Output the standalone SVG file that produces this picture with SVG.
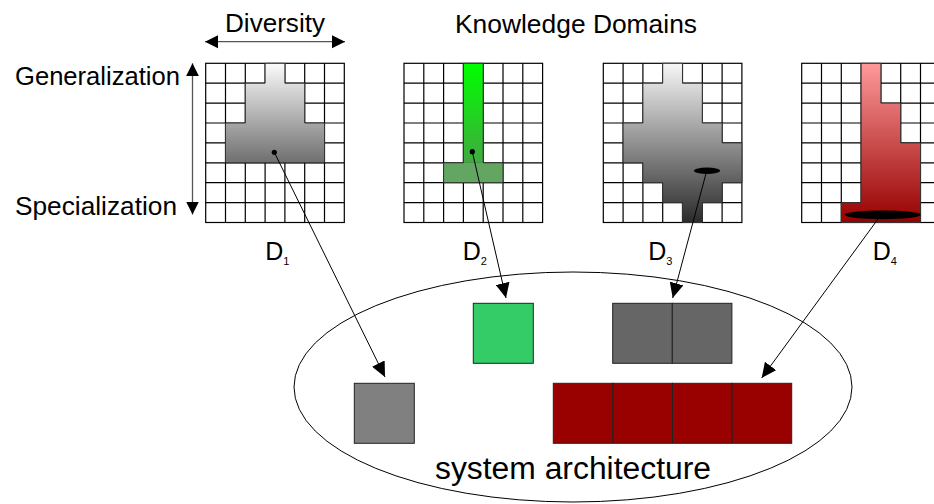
<svg xmlns="http://www.w3.org/2000/svg" xmlns:xlink="http://www.w3.org/1999/xlink" width="934" height="504" viewBox="0 0 934 504">
<style>
 text{font-family:"Liberation Sans",Arial,Helvetica,sans-serif;fill:#000}
 .lbl{font-size:26px}
 .dl{font-size:25px}
 .sub{font-size:11px}
 .gl{stroke:#000;stroke-width:1.2;fill:none}
 .shape{stroke:#333;stroke-width:1}
 .box{stroke:#222;stroke-width:1}
 .conn{stroke:#000;stroke-width:1;fill:none;marker-end:url(#ah)}
 .axis{stroke:#555;stroke-width:1.3;fill:none;marker-start:url(#axh);marker-end:url(#axh)}
</style>
<defs>
 <marker id="ah" markerUnits="userSpaceOnUse" markerWidth="16" markerHeight="14" viewBox="0 0 16 14" refX="15" refY="7" orient="auto">
  <path d="M0,0 L15,7 L0,14 Z" fill="#000"/>
 </marker>
 <marker id="axh" markerUnits="userSpaceOnUse" markerWidth="14" markerHeight="14" viewBox="0 0 14 14" refX="13" refY="7" orient="auto-start-reverse">
  <path d="M0,0.5 L13,7 L0,13.5 Z" fill="#000"/>
 </marker>
 <linearGradient id="gGray1" x1="0" y1="0" x2="0" y2="1">
  <stop offset="0" stop-color="#fbfbfb"/><stop offset="1" stop-color="#6f6f6f"/>
 </linearGradient>
 <linearGradient id="gGreen" x1="0" y1="0" x2="0" y2="1">
  <stop offset="0" stop-color="#00ff00"/><stop offset="1" stop-color="#40aa40"/>
 </linearGradient>
 <linearGradient id="gGray3" x1="0" y1="0" x2="0" y2="1">
  <stop offset="0" stop-color="#f7f7f7"/><stop offset="1" stop-color="#2b2b2b"/>
 </linearGradient>
 <linearGradient id="gRed" x1="0" y1="0" x2="0" y2="1">
  <stop offset="0" stop-color="#ff9a9a"/><stop offset="1" stop-color="#960000"/>
 </linearGradient>
 <g id="grid">
  <rect x="0" y="0" width="138.6" height="159.2" fill="#fff"/>
  <path class="gl" d="M19.8,0V159.2M39.6,0V159.2M59.4,0V159.2M79.2,0V159.2M99,0V159.2M118.8,0V159.2M0,19.9H138.6M0,39.8H138.6M0,59.7H138.6M0,79.6H138.6M0,99.5H138.6M0,119.4H138.6M0,139.3H138.6"/>
  <rect class="gl" x="0" y="0" width="138.6" height="159.2"/>
 </g>
</defs>

<rect width="934" height="504" fill="#fff"/>

<g id="axes">
 <text class="lbl" x="225" y="32" textLength="100" lengthAdjust="spacingAndGlyphs">Diversity</text>
 <line class="axis" x1="205" y1="41.7" x2="345" y2="41.7"/>
 <text class="lbl" x="15" y="85" textLength="165" lengthAdjust="spacingAndGlyphs">Generalization</text>
 <text class="lbl" x="15" y="215" textLength="162" lengthAdjust="spacingAndGlyphs">Specialization</text>
 <line class="axis" x1="192.5" y1="63.3" x2="192.5" y2="214.5"/>
 <text class="lbl" x="455" y="33" textLength="242" lengthAdjust="spacingAndGlyphs">Knowledge Domains</text>
</g>

<g id="node-D1" transform="translate(205.7,63.3)">
 <use href="#grid"/>
 <polygon class="shape" fill="url(#gGray1)" points="59.4,0 79.2,0 79.2,19.9 99,19.9 99,59.7 118.8,59.7 118.8,99.5 19.8,99.5 19.8,59.7 39.6,59.7 39.6,19.9 59.4,19.9"/>
 <circle cx="68.6" cy="89" r="2.6" fill="#000"/>
 <text class="dl" x="59.5" y="197.2">D<tspan class="sub" dy="5">1</tspan></text>
</g>

<g id="node-D2" transform="translate(404,63.3)">
 <use href="#grid"/>
 <rect x="59.4" y="0" width="19.8" height="99.5" fill="url(#gGreen)"/>
 <rect x="39.6" y="99.5" width="59.4" height="19.9" fill="#62a662"/>
 <polygon class="shape" fill="none" points="59.4,0 79.2,0 79.2,99.5 99,99.5 99,119.4 39.6,119.4 39.6,99.5 59.4,99.5"/>
 <circle cx="68.3" cy="88.4" r="2.6" fill="#000"/>
 <text class="dl" x="58.7" y="197.2">D<tspan class="sub" dy="5">2</tspan></text>
</g>

<g id="node-D3" transform="translate(603.3,63.3)">
 <use href="#grid"/>
 <polygon class="shape" fill="url(#gGray3)" points="59.4,0 79.2,0 79.2,19.9 99,19.9 99,59.7 118.8,59.7 118.8,79.6 138.6,79.6 138.6,119.4 118.8,119.4 118.8,139.3 99,139.3 99,159.2 79.2,159.2 79.2,139.3 59.4,139.3 59.4,119.4 39.6,119.4 39.6,99.5 19.8,99.5 19.8,59.7 39.6,59.7 39.6,19.9 59.4,19.9"/>
 <ellipse cx="103.7" cy="107.5" rx="13" ry="3.2" fill="#000"/>
 <text class="dl" x="45" y="197.2">D<tspan class="sub" dy="5">3</tspan></text>
</g>

<g id="node-D4" transform="translate(801.7,63.3)">
 <use href="#grid"/>
 <polygon class="shape" fill="url(#gRed)" points="59.4,0 79.2,0 79.2,39.8 99,39.8 99,79.6 118.8,79.6 118.8,159.2 39.6,159.2 39.6,139.3 59.4,139.3"/>
 <ellipse cx="81.1" cy="151.5" rx="38" ry="4.4" fill="#000"/>
 <text class="dl" x="71" y="197.2">D<tspan class="sub" dy="5">4</tspan></text>
</g>

<g id="system-architecture">
 <ellipse cx="573" cy="387" rx="279" ry="115" fill="none" stroke="#000" stroke-width="1"/>
 <text x="435" y="479" font-size="31" textLength="276" lengthAdjust="spacingAndGlyphs">system architecture</text>
</g>

<g id="box-D1">
 <rect class="box" x="354.3" y="383.3" width="60" height="60" fill="#808080"/>
</g>
<g id="box-D2">
 <rect class="box" x="473.3" y="303.3" width="60" height="60" fill="#33cc66"/>
</g>
<g id="box-D3">
 <rect class="box" x="612.7" y="303.3" width="59.6" height="60" fill="#666666"/>
 <rect class="box" x="672.3" y="303.3" width="59.6" height="60" fill="#666666"/>
</g>
<g id="box-D4">
 <rect class="box" x="553.3" y="383.3" width="59.6" height="60" fill="#990000"/>
 <rect class="box" x="612.9" y="383.3" width="59.6" height="60" fill="#990000"/>
 <rect class="box" x="672.5" y="383.3" width="59.6" height="60" fill="#990000"/>
 <rect class="box" x="732.1" y="383.3" width="59.6" height="60" fill="#990000"/>
</g>

<g id="connectors">
 <line class="conn" x1="274.3" y1="152.3" x2="385" y2="377"/>
 <line class="conn" x1="472.3" y1="151.7" x2="506" y2="298"/>
 <line class="conn" x1="706" y1="173.5" x2="672.7" y2="298"/>
 <line class="conn" x1="878" y1="219" x2="761.7" y2="378"/>
</g>
</svg>
